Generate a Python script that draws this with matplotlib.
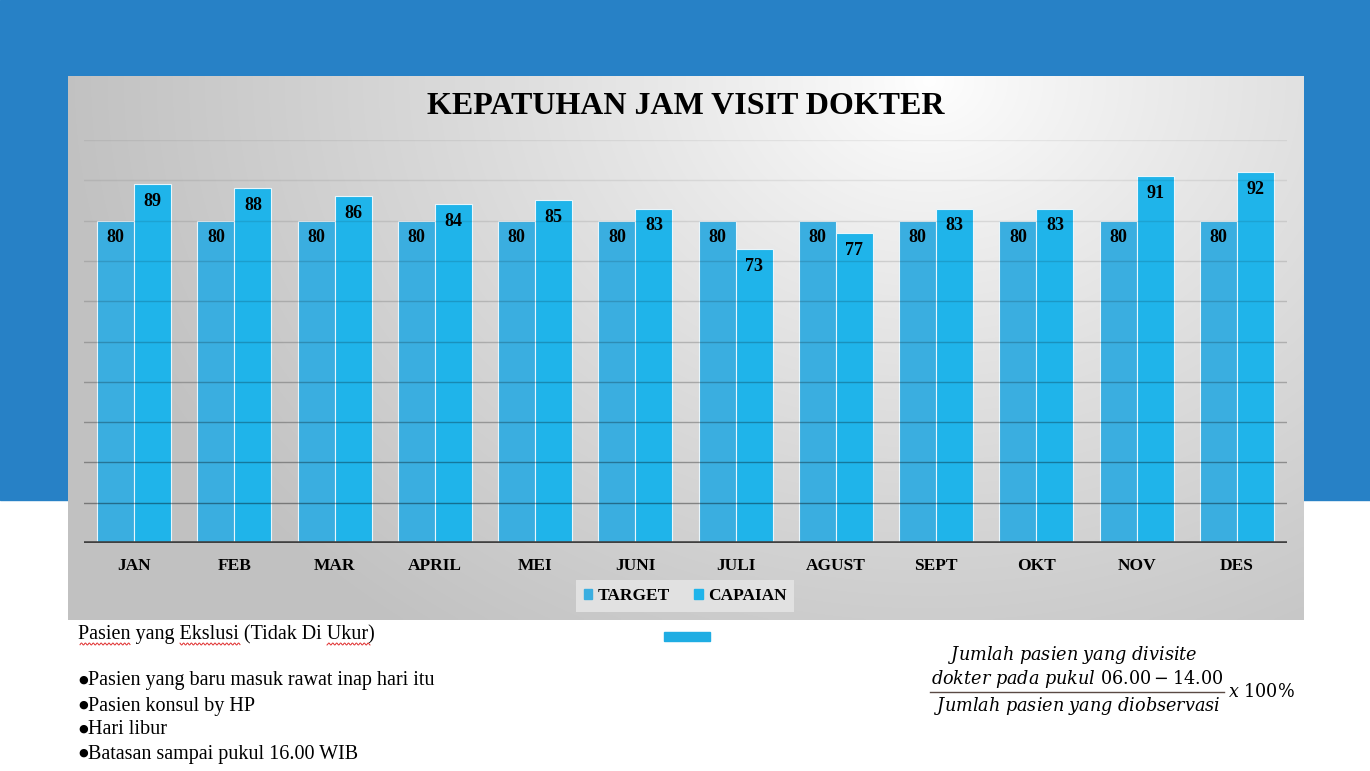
import numpy as np
import matplotlib
matplotlib.use("Agg")
from matplotlib import pyplot as plt
from matplotlib.patches import Rectangle, Patch

# data
bulan = ['JAN', 'FEB', 'MAR', 'APRIL', 'MEI', 'JUNI', 'JULI', 'AGUST', 'SEPT', 'OKT', 'NOV', 'DES']
target = [80, 80, 80, 80, 80, 80, 80, 80, 80, 80, 80, 80]
capaian = [89, 88, 86, 84, 85, 83, 73, 77, 83, 83, 91, 92]

judul = 'KEPATUHAN JAM VISIT DOKTER'
catatan_judul = 'Pasien yang Ekslusi (Tidak Di Ukur)'
catatan = ['Pasien yang baru masuk rawat inap hari itu',
           'Pasien konsul by HP',
           'Hari libur',
           'Batasan sampai pukul 16.00 WIB']

c_target = '#3aaee0'
c_capaian = '#1fb4ea'
c_band = '#2781c6'

plt.rcParams['font.family'] = ['Liberation Serif', 'DejaVu Serif']
plt.rcParams['mathtext.fontset'] = 'dejavuserif'

W, H = 1370, 771
fig = plt.figure(figsize=(W / 100, H / 100), dpi=100)

# background layer in pixel coords
bg = fig.add_axes([0, 0, 1, 1])
bg.set_xlim(0, W)
bg.set_ylim(H, 0)
bg.axis('off')
bg.add_patch(Rectangle((0, 0), W, 500, color=c_band, zorder=0))

# panel with radial gradient
px0, px1, py0, py1 = 68, 1304, 76, 620
xx, yy = np.meshgrid(np.linspace(px0, px1, 400), np.linspace(py0, py1, 200))
r = np.sqrt((xx - 930) ** 2 + ((yy - 80) * 1.25) ** 2)
t = np.clip(r / 860, 0, 1) ** 0.85
shade = 1.0 - t * (1.0 - 0.76)
img = np.dstack([shade, shade, shade])
bg.imshow(img, extent=(px0, px1, py1, py0), aspect='auto', zorder=1, interpolation='bilinear')

bg.text(686, 106, judul, ha='center', va='center', fontsize=23, fontweight='bold', zorder=3)

# small blue mark under legend
bg.add_patch(Rectangle((664, 632), 46, 9, color='#1fade3', zorder=2))

# notes on the lower left
bg.text(78, 634, catatan_judul, ha='left', va='center', fontsize=14.5, zorder=3)
for txt, yv in zip(catatan, [681, 706, 730, 754]):
    bg.text(78, yv - 1.5, '\u25cf', ha='left', va='center', fontsize=8, family='DejaVu Sans', zorder=3)
    bg.text(88, yv, txt, ha='left', va='center', fontsize=14.5, zorder=3)

# spell-check squiggles
for a, b in [(80, 130), (180, 240), (327, 370)]:
    sx = np.linspace(a, b, int((b - a) * 2))
    bg.plot(sx, 644 + 1.0 * np.sin(sx * 1.6), color='#e03030', lw=0.7, zorder=3)

# formula on the right
fs = 12.7
bg.text(1073, 655, r'$Jumlah\ pasien\ yang\ divisite$', ha='center', va='center', fontsize=fs, zorder=3)
bg.text(1077, 679, r'$dokter\ pada\ pukul\ 06.00 - 14.00$', ha='center', va='center', fontsize=fs, zorder=3)
bg.plot([930, 1224], [692, 692], color='#5a4a44', lw=1, zorder=3)
bg.text(1077, 706, r'$Jumlah\ pasien\ yang\ diobservasi$', ha='center', va='center', fontsize=fs, zorder=3)
bg.text(1228, 692, r'$x\ 100\%$', ha='left', va='center', fontsize=fs, zorder=3)

# chart axes
ax_l, ax_r, ax_t, ax_b = 84, 1287, 140, 543
ax = fig.add_axes([ax_l / W, 1 - ax_b / H, (ax_r - ax_l) / W, (ax_b - ax_t) / H])
ax.patch.set_alpha(0)
ax.set_xlim(-0.5, len(bulan) - 0.5)
ax.set_ylim(0, 100)

x = np.arange(len(bulan))
bw = 0.37
b1 = ax.bar(x - bw / 2, target, bw, color=c_target, edgecolor='#e8f6fc', linewidth=0.8, zorder=2)
b2 = ax.bar(x + bw / 2, capaian, bw, color=c_capaian, edgecolor='#e8f6fc', linewidth=0.8, zorder=2)

for bars, vals in [(b1, target), (b2, capaian)]:
    for rect, v in zip(bars, vals):
        ax.text(rect.get_x() + rect.get_width() / 2, v - 4.3, str(v), ha='center', va='center',
                fontsize=13, fontweight='bold', zorder=4)

# gridlines, faint at the top, darker near the base
for g in range(10, 101, 10):
    k = (100 - g) / 90.0
    ax.axhline(g, color='black', lw=1.0, alpha=0.06 + 0.32 * k ** 1.5, zorder=3)
ax.axhline(0, color='#404040', lw=2.6, zorder=5)

for s in ax.spines.values():
    s.set_visible(False)
ax.set_yticks([])
ax.set_xticks(x)
ax.set_xticklabels(bulan, fontsize=12.5, fontweight='bold')
ax.tick_params(axis='x', length=0, pad=11)

leg = fig.legend([Patch(color=c_target), Patch(color=c_capaian)], ['TARGET', 'CAPAIAN'],
                 loc='center', bbox_to_anchor=(685 / W, 1 - 596 / H), ncol=2, frameon=True,
                 prop={'size': 12.5, 'weight': 'bold'}, handlelength=0.5, handleheight=0.5,
                 handletextpad=0.3, columnspacing=1.4, borderpad=0.45, fancybox=False)
leg.get_frame().set_facecolor('#e4e4e4')
leg.get_frame().set_edgecolor('none')
leg.get_frame().set_alpha(0.9)

fig.savefig('out.png', dpi=100)
